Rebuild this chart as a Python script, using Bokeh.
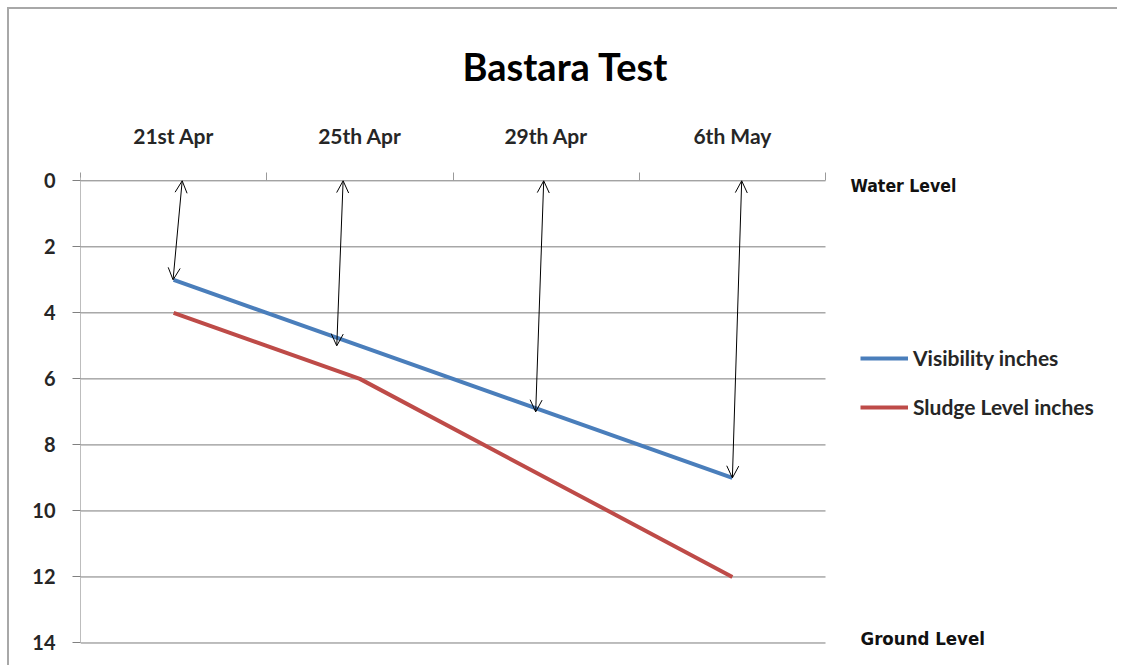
from bokeh.plotting import figure
from bokeh.models import (Range1d, FixedTicker, LinearAxis, Arrow, OpenHead, Label,
                          Legend, LegendItem, ColumnDataSource)
from bokeh.embed import file_html
from bokeh.resources import INLINE

# ---- data ----
categories = ["21st Apr", "25th Apr", "29th Apr", "6th May"]
visibility = [3, 5, 7, 9]          # Visibility inches
sludge = [4, 6, 9, 12]             # Sludge Level inches
y_ticks = [0, 2, 4, 6, 8, 10, 12, 14]
water_level = 0
ground_level = 14

# style: slight hand-drawn lean of the arrows (category-width fractions)
arrow_lean_top = [0.046, -0.09, -0.013, 0.05]
arrow_lean_bottom = [-0.003, -0.124, -0.056, 0.0]

FONT = "Lato"
NARROW = "'DejaVu Sans Condensed', Lato"
n = len(categories)
xs = [i + 0.5 for i in range(n)]

# layout: plotting area for the categories is 745px wide, whole frame 1034px
PLOT_W, FRAME_W = 745, 1034
x_end = n * FRAME_W / PLOT_W

p = figure(width=1110, height=658, output_backend="svg", toolbar_location=None,
           x_range=Range1d(0, x_end), y_range=Range1d(ground_level + 0.5, water_level - 0.1),
           x_axis_location=None, y_axis_location=None,
           min_border_left=71, min_border_right=5, min_border_top=168, min_border_bottom=8)
p.styles = {"margin-left": "7px", "margin-top": "7px",
            "border-top": "2px solid #a8a8a8", "border-left": "2px solid #a8a8a8"}
p.outline_line_color = None
p.background_fill_color = "white"
p.border_fill_color = "white"

p.title.text = "Bastara Test"
p.title.text_font = FONT
p.title.text_font_style = "bold"
p.title.text_font_size = "38px"
p.title.align = "left"
p.title.offset = 382
p.title.standoff = 62
p.title.text_color = "black"

# top category axis
xax = LinearAxis(ticker=FixedTicker(ticks=xs, minor_ticks=list(range(n + 1))))
xax.major_label_overrides = {x: c for x, c in zip(xs, categories)}
xax.major_tick_in = 0
xax.major_tick_out = 0
xax.minor_tick_in = 3
xax.minor_tick_out = 5
xax.minor_tick_line_color = "#9a9a9a"
xax.axis_line_color = None
xax.major_label_standoff = 25
xax.major_label_text_font = FONT
xax.major_label_text_font_style = "bold"
xax.major_label_text_font_size = "21px"
xax.major_label_text_color = "#262626"
p.add_layout(xax, "above")

# left value axis
yax = LinearAxis(ticker=FixedTicker(ticks=y_ticks), bounds=(water_level - 0.25, ground_level))
yax.major_tick_in = 0
yax.major_tick_out = 8
yax.minor_tick_line_color = None
yax.major_tick_line_color = "#808080"
yax.axis_line_color = "#bdbdbd"
yax.major_label_standoff = 17
yax.major_label_text_font = FONT
yax.major_label_text_font_style = "bold"
yax.major_label_text_font_size = "20px"
yax.major_label_text_color = "#262626"
p.add_layout(yax, "left")

p.xgrid.visible = False
p.ygrid.visible = False
# horizontal gridlines across the category area only
p.segment(x0=[0] * len(y_ticks), x1=[n] * len(y_ticks), y0=y_ticks, y1=y_ticks,
          line_color="#7c7c7c", line_width=1)

src = ColumnDataSource(dict(x=xs, vis=visibility, sludge=sludge))
r_vis = p.line("x", "vis", source=src, line_color="#4A7EBB", line_width=4)
r_sl = p.line("x", "sludge", source=src, line_color="#BE4B48", line_width=4)

# double-headed arrows from water level down to visibility depth
for i, v in enumerate(visibility):
    p.add_layout(Arrow(x_start=xs[i] + arrow_lean_top[i], y_start=water_level,
                       x_end=xs[i] + arrow_lean_bottom[i], y_end=v,
                       line_color="black", line_width=1,
                       start=OpenHead(size=12, line_width=1, line_color="black"),
                       end=OpenHead(size=12, line_width=1, line_color="black")))

legend = Legend(items=[LegendItem(label="Visibility inches", renderers=[r_vis]),
                       LegendItem(label="Sludge Level inches", renderers=[r_sl])],
                location=(780, 240), orientation="vertical")
legend.background_fill_alpha = 0
legend.border_line_color = None
legend.padding = 0
legend.margin = 0
legend.spacing = 24
legend.glyph_width = 48
legend.glyph_height = 20
legend.label_standoff = 5
legend.label_text_font = FONT
legend.label_text_font_style = "bold"
legend.label_text_font_size = "21px"
legend.label_text_color = "#262626"
p.add_layout(legend, "center")

p.add_layout(Label(x=770, y=water_level, x_units="screen", y_units="data", y_offset=-5,
                   text="Water Level", text_font=NARROW,
                   text_font_style="bold", text_font_size="17.5px",
                   text_align="left", text_baseline="middle", text_color="#111111"))
p.add_layout(Label(x=780, y=ground_level, x_units="screen", y_units="data", y_offset=4,
                   text="Ground Level", text_font=NARROW,
                   text_font_style="bold", text_font_size="18.5px",
                   text_align="left", text_baseline="middle", text_color="#111111"))

open("out.html", "w").write(file_html(p, INLINE))
